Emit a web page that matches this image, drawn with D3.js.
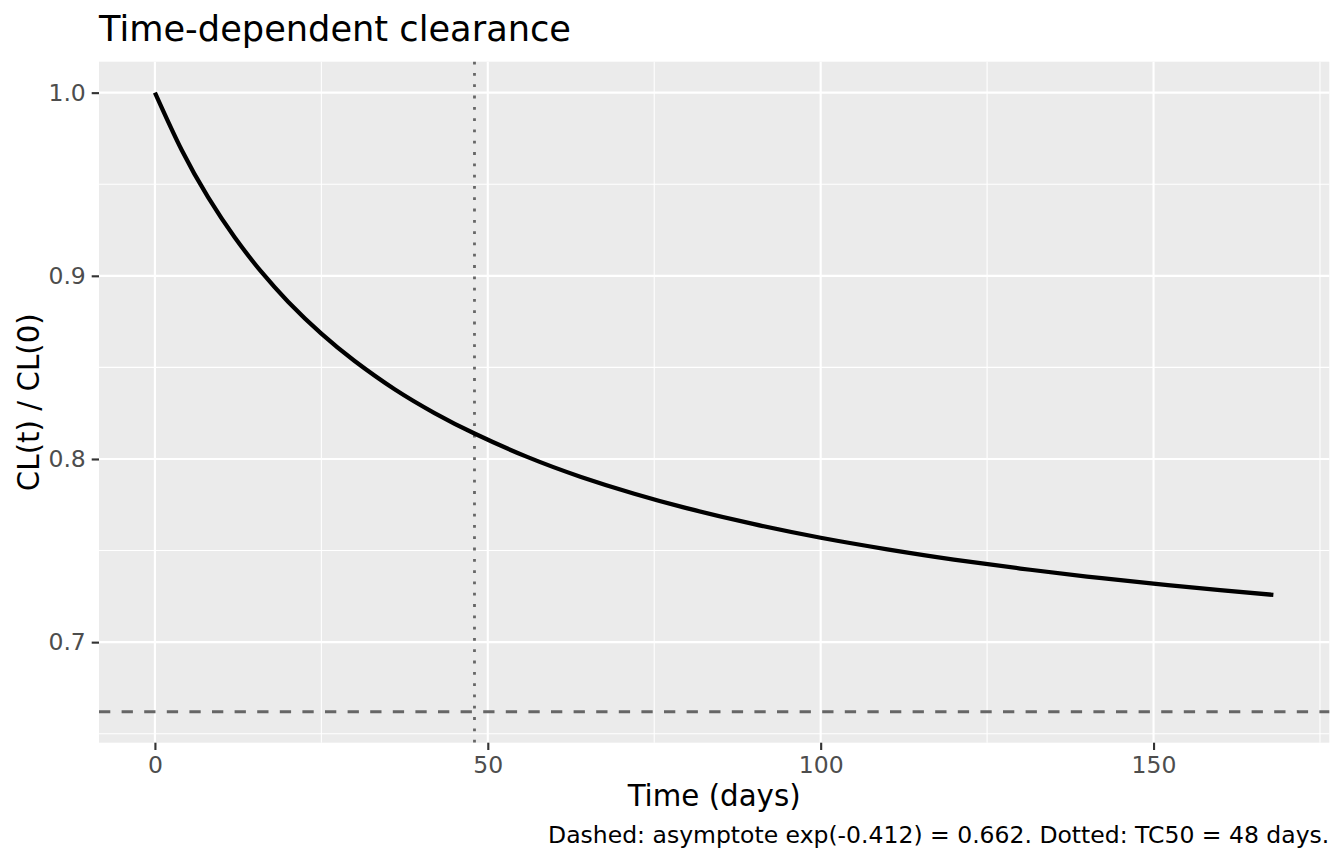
<!DOCTYPE html>
<meta charset="utf-8">
<html>
<head>
    <script src="https://d3js.org/d3.v7.min.js"></script>
    <style>
      body { margin: 0; background: white; }
      text { font-family: "DejaVu Sans", sans-serif; }
    </style>
</head>
<body>
<div id="my_dataviz"></div>

<script>
    // values
    const timeDays = [0, 4, 8, 12, 16, 20, 25, 30, 36, 42, 48, 56, 64, 72, 80, 90, 100, 110, 120, 130, 140, 150, 160, 168];
    const clRatio  = [1.0000, 0.9688, 0.9428, 0.9209, 0.9021, 0.8859, 0.8684, 0.8535, 0.8381, 0.8251, 0.8139, 0.8010,
                      0.7902, 0.7810, 0.7730, 0.7644, 0.7570, 0.7507, 0.7451, 0.7402, 0.7358, 0.7319, 0.7284, 0.7258];
    const asymptote = 0.662;
    const tc50 = 48;
    const xTicks = [0, 50, 100, 150];
    const xMinor = [25, 75, 125, 175];
    const yTicks = [0.7, 0.8, 0.9, 1.0];
    const yMinor = [0.65, 0.75, 0.85, 0.95];

    const W = 1344, H = 864;
    // panel box
    const margin = {top: 61.7, right: 14.7, bottom: 121.3, left: 99};
    const pw = W - margin.left - margin.right,
          ph = H - margin.top - margin.bottom;

    const svg = d3.select("#my_dataviz")
      .append("svg")
        .attr("width", W)
        .attr("height", H);

    // ggplot style 5% expansion on both axes
    const xExt = [0, 168], yExt = [asymptote, 1.0];
    const xPad = (xExt[1] - xExt[0]) * 0.05, yPad = (yExt[1] - yExt[0]) * 0.05;
    const x = d3.scaleLinear().domain([xExt[0] - xPad, xExt[1] + xPad]).range([0, pw]);
    const y = d3.scaleLinear().domain([yExt[0] - yPad, yExt[1] + yPad]).range([ph, 0]);

    const g = svg.append("g").attr("transform", `translate(${margin.left},${margin.top})`);

    g.append("rect").attr("width", pw).attr("height", ph).attr("fill", "#ebebeb");

    // grid
    g.selectAll(".xminor").data(xMinor).join("line")
      .attr("x1", d => x(d)).attr("x2", d => x(d)).attr("y1", 0).attr("y2", ph)
      .attr("stroke", "white").attr("stroke-width", 1.07);
    g.selectAll(".yminor").data(yMinor).join("line")
      .attr("y1", d => y(d)).attr("y2", d => y(d)).attr("x1", 0).attr("x2", pw)
      .attr("stroke", "white").attr("stroke-width", 1.07);
    g.selectAll(".xmajor").data(xTicks).join("line")
      .attr("x1", d => x(d)).attr("x2", d => x(d)).attr("y1", 0).attr("y2", ph)
      .attr("stroke", "white").attr("stroke-width", 2.13);
    g.selectAll(".ymajor").data(yTicks).join("line")
      .attr("y1", d => y(d)).attr("y2", d => y(d)).attr("x1", 0).attr("x2", pw)
      .attr("stroke", "white").attr("stroke-width", 2.13);

    // asymptote and TC50 reference lines
    g.append("line")
      .attr("x1", 0).attr("x2", pw).attr("y1", y(asymptote)).attr("y2", y(asymptote))
      .attr("stroke", "#666666").attr("stroke-width", 2.8)
      .attr("stroke-dasharray", "11.3,11.3");
    g.append("line")
      .attr("x1", x(tc50)).attr("x2", x(tc50)).attr("y1", 0).attr("y2", ph)
      .attr("stroke", "#666666").attr("stroke-width", 2.8)
      .attr("stroke-dasharray", "2.8,8.5");

    // the curve
    const pts = timeDays.map((t, i) => ({t: t, v: clRatio[i]}));
    g.append("path")
      .datum(pts)
      .attr("fill", "none")
      .attr("stroke", "black")
      .attr("stroke-width", 4.27)
      .attr("d", d3.line().curve(d3.curveNatural)
        .x(d => x(d.t))
        .y(d => y(d.v)));

    // axes
    const xAxis = g.append("g")
      .attr("transform", `translate(0,${ph})`)
      .call(d3.axisBottom(x).tickValues(xTicks).tickSize(7.3).tickPadding(5.9).tickFormat(d3.format("d")));
    const yAxis = g.append("g")
      .call(d3.axisLeft(y).tickValues(yTicks).tickSize(7.3).tickPadding(5.9).tickFormat(d3.format(".1f")));
    [xAxis, yAxis].forEach(a => {
      a.select(".domain").remove();
      a.selectAll(".tick line").attr("stroke", "#333333").attr("stroke-width", 2.13);
      a.selectAll(".tick text").attr("fill", "#4d4d4d")
        .style("font-family", "DejaVu Sans").style("font-size", "23.5px");
    });
    xAxis.selectAll(".tick text").attr("dy", "0.74em");

    // titles
    svg.append("text")
      .attr("x", 99).attr("y", 41)
      .style("font-size", "35.2px")
      .text("Time-dependent clearance");

    svg.append("text")
      .attr("x", margin.left + pw / 2).attr("y", 806)
      .attr("text-anchor", "middle")
      .style("font-size", "29.3px")
      .text("Time (days)");

    svg.append("text")
      .attr("transform", `translate(38.5,${margin.top + ph / 2}) rotate(-90)`)
      .attr("text-anchor", "middle")
      .style("font-size", "29.3px")
      .text("CL(t) / CL(0)");

    svg.append("text")
      .attr("x", margin.left + pw).attr("y", 843)
      .attr("text-anchor", "end")
      .style("font-size", "23.5px")
      .text("Dashed: asymptote exp(-0.412) = 0.662. Dotted: TC50 = 48 days.");
</script>
</body>
</html>
